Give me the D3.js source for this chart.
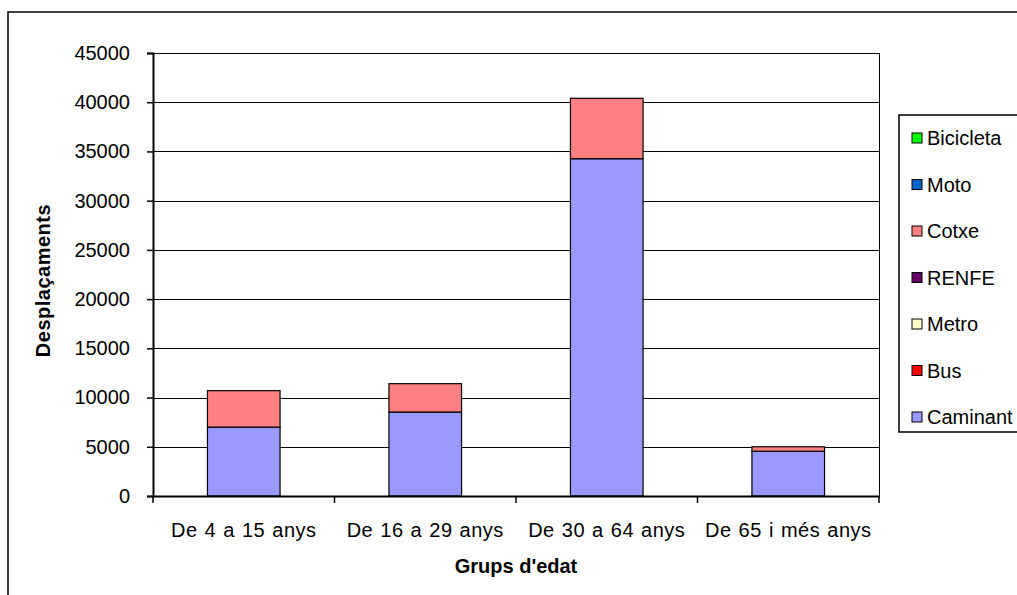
<!DOCTYPE html>
<html>
<head>
<meta charset="utf-8">
<script src="https://cdn.jsdelivr.net/npm/d3@7"></script>
<style>
  html, body { margin: 0; padding: 0; background: #fff; }
  svg { display: block; font-family: "Liberation Sans", Arial, sans-serif; }
</style>
</head>
<body>
<svg id="chart" width="1017" height="595"></svg>
<script>
// Age groups along the x axis
const categories = ["De 4 a 15 anys", "De 16 a 29 anys", "De 30 a 64 anys", "De 65 i més anys"];

// Trips per transport mode and age group (stacked bottom to top)
const caminant  = [7000, 8530, 34260, 4550];
const bus       = [0, 0, 0, 0];
const metro     = [0, 0, 0, 0];
const renfe     = [0, 0, 0, 0];
const cotxe     = [3700, 2880, 6140, 450];
const moto      = [0, 0, 0, 0];
const bicicleta = [0, 0, 0, 0];

const seriesNames = ["Caminant", "Bus", "Metro", "RENFE", "Cotxe", "Moto", "Bicicleta"];
const seriesValues = [caminant, bus, metro, renfe, cotxe, moto, bicicleta];
const seriesColors = ["#9999FF", "#FF0000", "#FFFFCC", "#660066", "#FF8080", "#0066CC", "#00FF00"];

const yTicks = [0, 5000, 10000, 15000, 20000, 25000, 30000, 35000, 40000, 45000];

const svg = d3.select("#chart");
const plot = { left: 153, right: 879, top: 53, bottom: 496 };
const FONT = 20;

// Outer chart frame
svg.append("rect")
  .attr("x", 8).attr("y", 12)
  .attr("width", 1030).attr("height", 600)
  .attr("fill", "none").attr("stroke", "#000").attr("stroke-width", 1.5);

const x = d3.scaleBand()
  .domain(categories)
  .range([plot.left, plot.right])
  .paddingInner(0.6)
  .paddingOuter(0.3);

const xCat = d3.scaleBand()
  .domain(categories)
  .range([plot.left, plot.right])
  .padding(0);

const y = d3.scaleLinear().domain([0, 45000]).range([plot.bottom, plot.top]);

// Horizontal gridlines
svg.append("g")
  .selectAll("line")
  .data(yTicks.filter(d => d > 0))
  .join("line")
  .attr("x1", plot.left).attr("x2", plot.right)
  .attr("y1", d => Math.round(y(d)) + 0.5).attr("y2", d => Math.round(y(d)) + 0.5)
  .attr("stroke", "#000").attr("stroke-width", 1);

// Right edge of plot area
svg.append("line")
  .attr("x1", plot.right + 0.5).attr("x2", plot.right + 0.5)
  .attr("y1", plot.top).attr("y2", plot.bottom)
  .attr("stroke", "#000").attr("stroke-width", 1);

// Stacked bars
const rows = categories.map((c, i) => {
  const r = { cat: c };
  seriesNames.forEach((n, k) => { r[n] = seriesValues[k][i]; });
  return r;
});
const stacked = d3.stack().keys(seriesNames)(rows);

svg.append("g")
  .selectAll("g")
  .data(stacked)
  .join("g")
  .attr("fill", (d, i) => seriesColors[i])
  .selectAll("rect")
  .data(d => d.filter(s => s[1] - s[0] > 0))
  .join("rect")
  .attr("x", d => x(d.data.cat))
  .attr("width", x.bandwidth())
  .attr("y", d => y(d[1]))
  .attr("height", d => y(d[0]) - y(d[1]))
  .attr("stroke", "#000").attr("stroke-width", 1.2);

// Y axis
const yAxis = svg.append("g")
  .attr("transform", `translate(${plot.left},0)`)
  .call(d3.axisLeft(y).tickValues(yTicks).tickSize(6).tickPadding(17).tickFormat(d3.format("d")));
yAxis.select(".domain").attr("stroke", "#000").attr("stroke-width", 2);
yAxis.selectAll(".tick line").attr("stroke", "#000").attr("stroke-width", 1.5);
yAxis.selectAll(".tick text")
  .attr("font-size", FONT).attr("fill", "#000")
  .attr("font-family", "Liberation Sans, Arial, sans-serif");

// X axis
const xAxis = svg.append("g")
  .attr("transform", `translate(0,${plot.bottom})`)
  .call(d3.axisBottom(xCat).tickSize(0).tickPadding(27));
xAxis.select(".domain").attr("stroke", "#000").attr("stroke-width", 2);
xAxis.selectAll(".tick text")
  .attr("font-size", FONT).attr("fill", "#000")
  .attr("letter-spacing", 0.5)
  .attr("word-spacing", 1)
  .attr("font-family", "Liberation Sans, Arial, sans-serif");

// Category separator ticks
const boundaries = categories.map(c => xCat(c)).concat([xCat.range()[1]]);
svg.append("g")
  .selectAll("line")
  .data(boundaries)
  .join("line")
  .attr("x1", d => d).attr("x2", d => d)
  .attr("y1", plot.bottom).attr("y2", plot.bottom + 7)
  .attr("stroke", "#000").attr("stroke-width", 1.5);

// Axis titles
svg.append("text")
  .attr("x", (plot.left + plot.right) / 2).attr("y", 573)
  .attr("text-anchor", "middle")
  .attr("font-size", FONT).attr("font-weight", "bold")
  .text("Grups d'edat");

svg.append("text")
  .attr("transform", `translate(50,${(plot.top + plot.bottom) / 2 + 6}) rotate(-90)`)
  .attr("text-anchor", "middle")
  .attr("font-size", FONT).attr("font-weight", "bold")
  .attr("letter-spacing", 0.5)
  .text("Desplaçaments");

// Legend (top of stack first)
const legend = svg.append("g");
legend.append("rect")
  .attr("x", 899).attr("y", 115)
  .attr("width", 140).attr("height", 317)
  .attr("fill", "#fff").attr("stroke", "#000").attr("stroke-width", 1.5);

const legendOrder = seriesNames.map((n, i) => ({ name: n, color: seriesColors[i] })).reverse();
const ly = d3.scalePoint().domain(legendOrder.map(d => d.name)).range([138, 417]);

const items = legend.selectAll("g.item")
  .data(legendOrder)
  .join("g")
  .attr("class", "item")
  .attr("transform", d => `translate(0,${ly(d.name)})`);
items.append("rect")
  .attr("x", 912).attr("y", -5)
  .attr("width", 10).attr("height", 10)
  .attr("fill", d => d.color).attr("stroke", "#000").attr("stroke-width", 1);
items.append("text")
  .attr("x", 927).attr("y", 7)
  .attr("font-size", FONT)
  .text(d => d.name);
</script>
</body>
</html>
